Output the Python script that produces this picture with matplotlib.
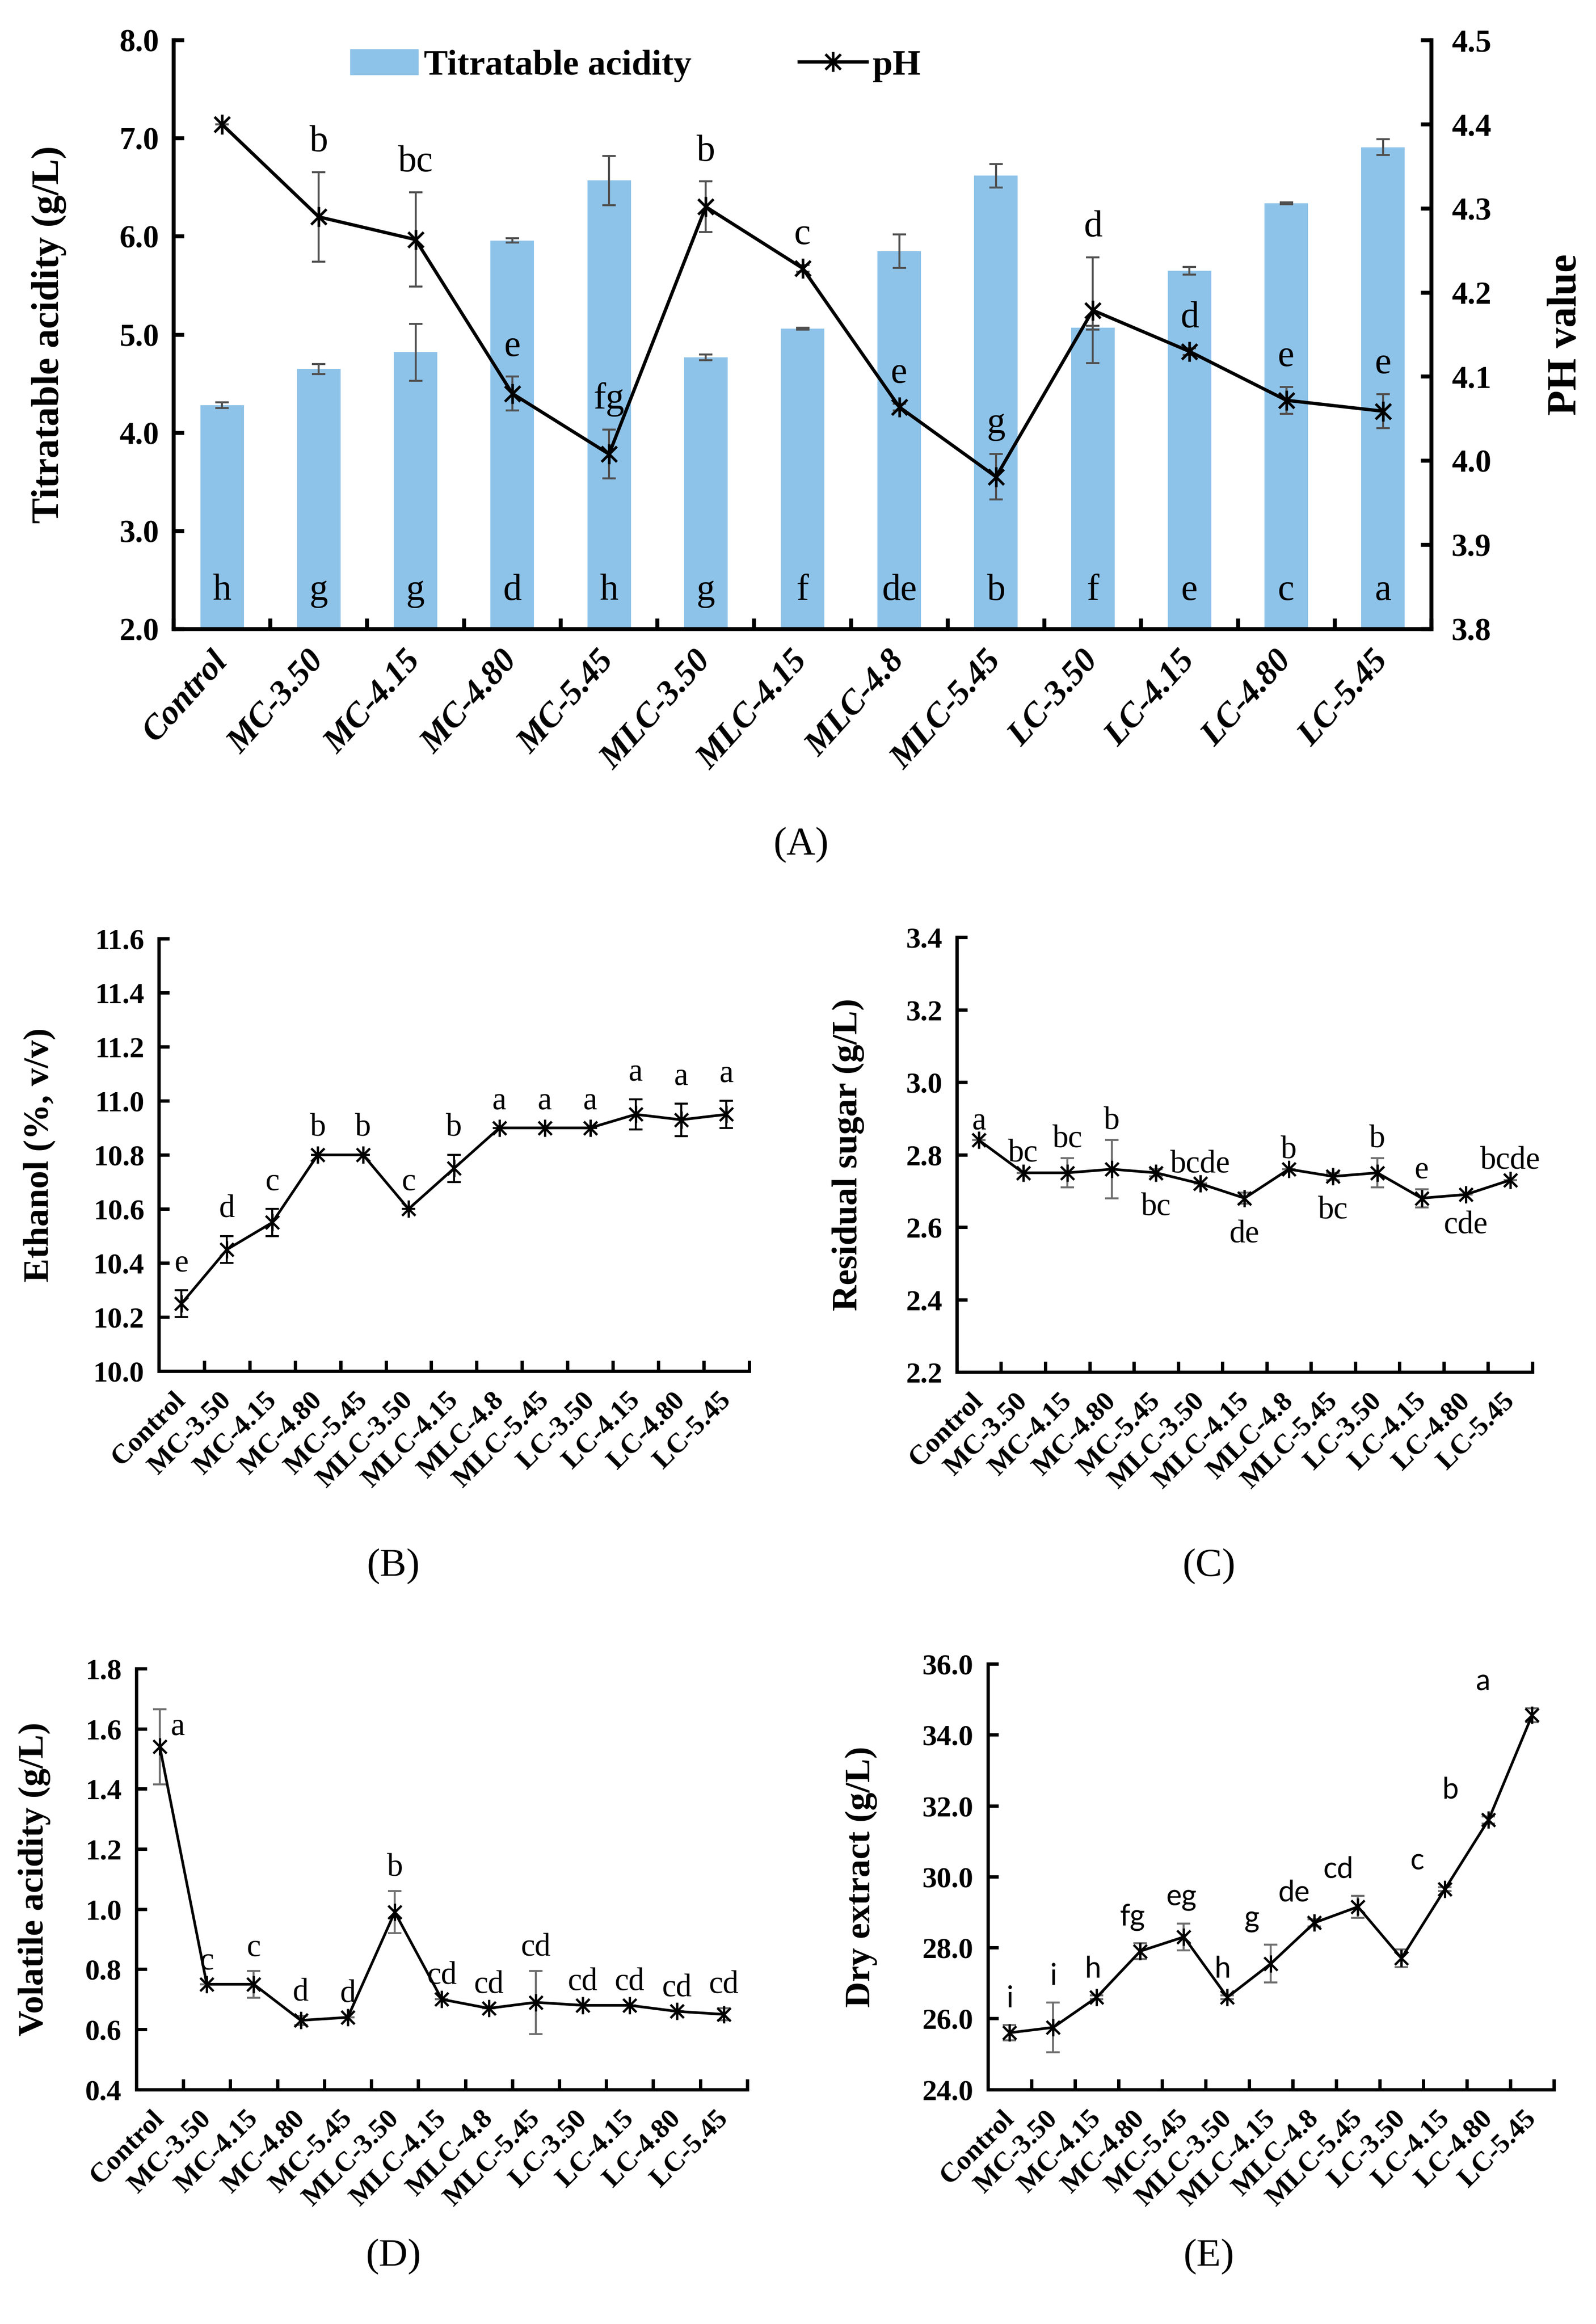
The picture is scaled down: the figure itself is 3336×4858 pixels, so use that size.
import matplotlib.pyplot as plt
from matplotlib.path import Path
from matplotlib.patches import Patch
from matplotlib.lines import Line2D
from matplotlib.ticker import FormatStrFormatter
import numpy as np

plt.rcParams['font.family'] = ['Liberation Serif', 'DejaVu Serif']

# ---- donnees ----
groups = ['Control', 'MC-3.50', 'MC-4.15', 'MC-4.80', 'MC-5.45',
          'MLC-3.50', 'MLC-4.15', 'MLC-4.8', 'MLC-5.45',
          'LC-3.50', 'LC-4.15', 'LC-4.80', 'LC-5.45']

ta_mean = [4.28, 4.65, 4.82, 5.96, 6.57, 4.77, 5.06, 5.85, 6.62, 5.07, 5.65, 6.34, 6.91]
ta_err = [0.03, 0.05, 0.29, 0.02, 0.25, 0.03, 0.01, 0.17, 0.12, 0.02, 0.04, 0.01, 0.08]
ta_letters = ['h', 'g', 'g', 'd', 'h', 'g', 'f', 'de', 'b', 'f', 'e', 'c', 'a']

ph_mean = [4.40, 4.29, 4.263, 4.080, 4.008, 4.302, 4.229, 4.064, 3.981, 4.179, 4.130, 4.072, 4.059]
ph_err = [0.0, 0.053, 0.056, 0.020, 0.029, 0.030, 0.004, 0.004, 0.027, 0.063, 0.004, 0.016, 0.02]
ph_letters = ['', 'b', 'bc', 'e', 'fg', 'b', 'c', 'e', 'g', 'd', 'd', 'e', 'e']

ethanol_mean = [10.25, 10.45, 10.55, 10.80, 10.80, 10.60, 10.75, 10.90, 10.90, 10.90, 10.95, 10.93, 10.95]
ethanol_err = [0.05, 0.05, 0.05, 0.0, 0.0, 0.0, 0.05, 0.0, 0.0, 0.0, 0.055, 0.06, 0.05]
ethanol_letters = ['e', 'd', 'c', 'b', 'b', 'c', 'b', 'a', 'a', 'a', 'a', 'a', 'a']

sugar_mean = [2.84, 2.75, 2.75, 2.76, 2.75, 2.72, 2.68, 2.76, 2.74, 2.75, 2.68, 2.69, 2.73]
sugar_err = [0.0, 0.0, 0.04, 0.08, 0.01, 0.0, 0.015, 0.0, 0.01, 0.04, 0.025, 0.0, 0.0]
sugar_letters = ['a', 'bc', 'bc', 'b', 'bc', 'bcde', 'de', 'b', 'bc', 'b', 'e', 'cde', 'bcde']
sugar_above = [True, True, True, True, False, True, False, True, False, True, True, False, True]

va_mean = [1.54, 0.75, 0.75, 0.63, 0.64, 0.99, 0.70, 0.67, 0.69, 0.68, 0.68, 0.66, 0.65]
va_err = [0.125, 0.0, 0.045, 0.015, 0.0, 0.07, 0.0, 0.0, 0.105, 0.0, 0.0, 0.0, 0.02]
va_letters = ['a', 'c', 'c', 'd', 'd', 'b', 'cd', 'cd', 'cd', 'cd', 'cd', 'cd', 'cd']

dry_mean = [25.6, 25.75, 26.6, 27.9, 28.3, 26.6, 27.55, 28.7, 29.15, 27.7, 29.65, 31.6, 34.55]
dry_err = [0.22, 0.7, 0.05, 0.22, 0.38, 0.05, 0.53, 0.1, 0.31, 0.25, 0.05, 0.1, 0.2]
dry_letters = ['i', 'i', 'h', 'fg', 'eg', 'h', 'g', 'de', 'cd', '', 'c', 'b', 'a']
dry_letter_dx = [0, 0, -0.08, -0.18, -0.06, -0.11, -0.45, -0.47, -0.45, 0, -0.64, -0.87, -1.12]

# marqueur "etoile" facon Excel : croix + trait vertical
star = Path([(-1, -1), (1, 1), (-1, 1), (1, -1), (0, -1.3), (0, 1.3)],
            [Path.MOVETO, Path.LINETO] * 3)

x = np.arange(len(groups))
fig = plt.figure(figsize=(33.36, 48.58), dpi=100)


def style_axes(ax, lw):
    ax.spines['top'].set_visible(False)
    ax.spines['right'].set_visible(False)
    ax.spines['left'].set_linewidth(lw)
    ax.spines['bottom'].set_linewidth(lw)
    ax.set_xlim(-0.5, len(groups) - 0.5)
    ax.set_xticks(x)
    ax.set_xticks(np.arange(-0.5, len(groups), 1), minor=True)
    ax.tick_params(axis='x', which='major', length=0)
    ax.tick_params(axis='x', which='minor', direction='in', length=16, width=lw)
    ax.tick_params(axis='y', direction='in', length=16, width=lw)


# ---- (A) acidite titrable + pH ----
axA = fig.add_axes([0.1088, 0.7293, 0.7881, 0.2534])
bars = axA.bar(x, ta_mean, width=0.45, color='#8EC3E9', zorder=2,
               yerr=ta_err, error_kw=dict(ecolor='#505050', elinewidth=3, capsize=10, capthick=3))
axA.set_ylim(2, 8)
axA.set_yticks(np.arange(2, 8.01, 1))
axA.yaxis.set_major_formatter(FormatStrFormatter('%.1f'))
style_axes(axA, 6)
axA.set_xticklabels(groups, rotation=48, ha='right', va='center', rotation_mode='anchor',
                    fontweight='bold', fontstyle='italic', fontsize=52)
axA.tick_params(axis='x', which='major', pad=40)
axA.tick_params(axis='y', labelsize=48, pad=22)
for t in axA.get_yticklabels():
    t.set_fontweight('bold')
axA.set_ylabel('Titratable acidity (g/L)', fontsize=58, fontweight='bold')
axA.yaxis.set_label_coords(-0.085, 0.5)
for i, lab in enumerate(ta_letters):
    axA.text(i, 2.3, lab, ha='center', va='baseline', fontsize=56)

axB2 = axA.twinx()
axB2.set_ylim(3.8, 4.5)
axB2.set_yticks(np.arange(3.8, 4.51, 0.1))
axB2.yaxis.set_major_formatter(FormatStrFormatter('%.1f'))
axB2.spines['top'].set_visible(False)
axB2.spines['right'].set_linewidth(6)
axB2.spines['left'].set_visible(False)
axB2.spines['bottom'].set_visible(False)
axB2.tick_params(axis='y', direction='in', length=16, width=6, labelsize=48, pad=30)
for t in axB2.get_yticklabels():
    t.set_fontweight('bold')
axB2.set_ylabel('PH value', fontsize=62, fontweight='bold', rotation=90)
axB2.yaxis.set_label_coords(1.092, 0.5)
axB2.errorbar(x, ph_mean, yerr=ph_err, fmt='none', ecolor='#505050',
              elinewidth=3, capsize=10, capthick=3, zorder=2)
axB2.plot(x, ph_mean, color='black', lw=5, marker=star, ms=30, mew=4,
          mfc='none', mec='black', zorder=3)
for i, lab in enumerate(ph_letters):
    if lab:
        axB2.text(i, ph_mean[i] + ph_err[i] + 0.025, lab, ha='center', va='baseline', fontsize=56)

handles = [Patch(color='#8EC3E9'),
           Line2D([], [], color='black', lw=5, marker=star, ms=30, mew=4, mfc='none')]
axA.legend(handles, ['Titratable acidity', 'pH'], loc='upper center', ncol=2,
           bbox_to_anchor=(0.367, 1.015), frameon=False,
           prop={'weight': 'bold', 'size': 54}, handlelength=1.9, handleheight=0.7,
           handletextpad=0.15, columnspacing=3.0, borderpad=0)


def line_panel(rect, mean, err, ylim, step, fmt, ylabel, label_x, ecolor):
    ax = fig.add_axes(rect)
    ax.errorbar(x, mean, yerr=err, fmt='none', ecolor=ecolor,
                elinewidth=3, capsize=10, capthick=3, zorder=2)
    ax.plot(x, mean, color='black', lw=4, marker=star, ms=26, mew=3.5,
            mfc='none', mec='black', zorder=3)
    ax.set_ylim(*ylim)
    ax.set_yticks(np.arange(ylim[0], ylim[1] + step / 2, step))
    ax.yaxis.set_major_formatter(FormatStrFormatter(fmt))
    style_axes(ax, 5)
    ax.set_xticklabels(groups, rotation=45, ha='right', va='center', rotation_mode='anchor',
                       fontweight='bold', fontsize=42)
    ax.tick_params(axis='x', which='major', pad=38)
    ax.tick_params(axis='y', labelsize=44, pad=22)
    for t in ax.get_yticklabels():
        t.set_fontweight('bold')
    ax.set_ylabel(ylabel, fontsize=54, fontweight='bold')
    ax.yaxis.set_label_coords(label_x, 0.5)
    return ax


# ---- (B) ethanol ----
axB = line_panel([0.0995, 0.4100, 0.3699, 0.1861], ethanol_mean, ethanol_err,
                 (10.0, 11.6), 0.2, '%.1f', 'Ethanol (%, v/v)', -0.175, 'black')
for i, lab in enumerate(ethanol_letters):
    axB.text(i, ethanol_mean[i] + ethanol_err[i] + 0.07, lab, ha='center', va='baseline', fontsize=48)

# ---- (C) sucres residuels ----
axC = line_panel([0.5995, 0.4096, 0.3606, 0.1871], sugar_mean, sugar_err,
                 (2.2, 3.4), 0.2, '%.1f', 'Residual sugar (g/L)', -0.16, '#707070')
for i, lab in enumerate(sugar_letters):
    if sugar_above[i]:
        axC.text(i, sugar_mean[i] + sugar_err[i] + 0.03, lab, ha='center', va='baseline', fontsize=48)
    else:
        axC.text(i, sugar_mean[i] - sugar_err[i] - 0.045, lab, ha='center', va='top', fontsize=48)

# ---- (D) acidite volatile ----
axD = line_panel([0.0854, 0.1009, 0.3828, 0.1811], va_mean, va_err,
                 (0.4, 1.8), 0.2, '%.1f', 'Volatile acidity (g/L)', -0.14, '#707070')
for i, lab in enumerate(va_letters):
    if i == 0:
        axD.text(i + 0.38, va_mean[i] + 0.04, lab, ha='center', va='baseline', fontsize=48)
    else:
        axD.text(i, va_mean[i] + va_err[i] + 0.05, lab, ha='center', va='baseline', fontsize=48)

# ---- (E) extrait sec ----
axE = line_panel([0.6190, 0.1009, 0.3546, 0.1832], dry_mean, dry_err,
                 (24.0, 36.0), 2.0, '%.1f', 'Dry extract (g/L)', -0.195, '#707070')
for i, lab in enumerate(dry_letters):
    if lab:
        axE.text(i + dry_letter_dx[i], dry_mean[i] + dry_err[i] + 0.5, lab,
                 ha='center', va='baseline', fontsize=44, family=['Lato', 'DejaVu Sans'])

# legendes des sous-figures
for lab, (cx, cy) in zip(['(A)', '(B)', '(C)', '(D)', '(E)'],
                         [(0.502, 0.6363), (0.2464, 0.3259), (0.7575, 0.3259),
                          (0.2464, 0.0288), (0.7575, 0.0288)]):
    fig.text(cx, cy, lab, ha='center', va='center', fontsize=60)

fig.savefig('out.png', dpi=100)
